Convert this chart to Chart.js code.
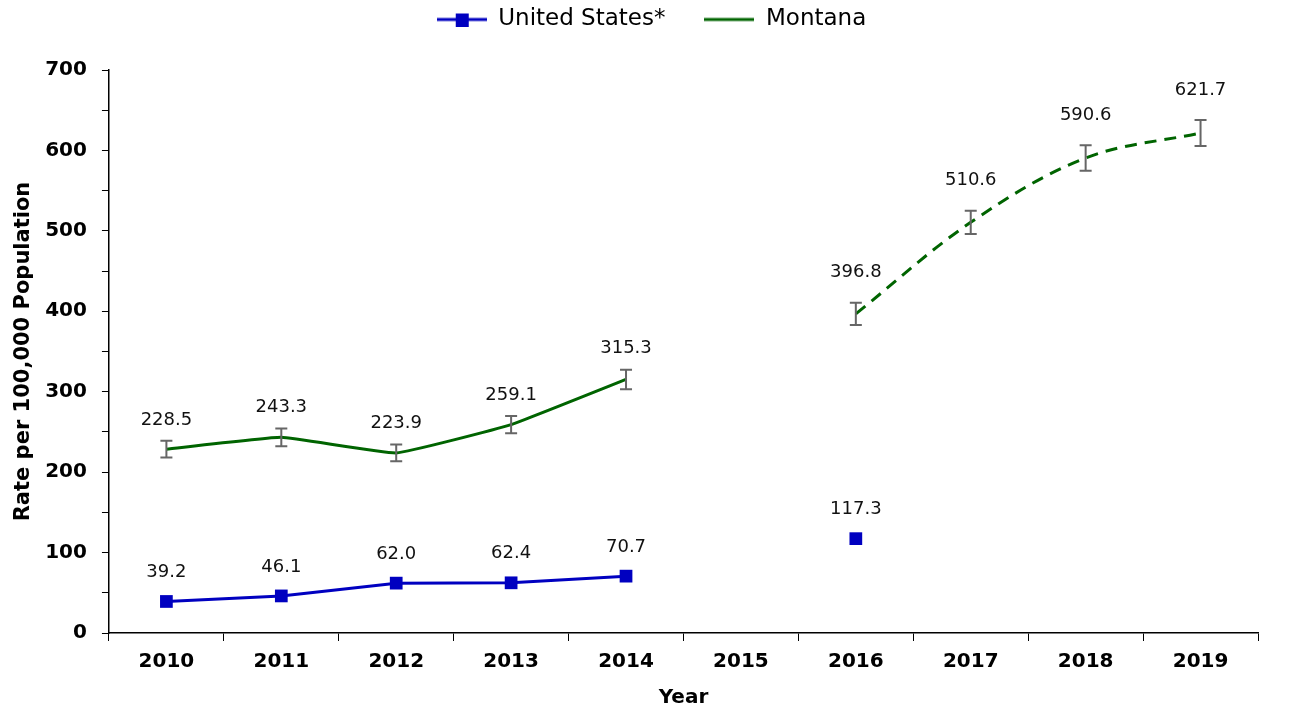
<!DOCTYPE html>
<html>
<head>
<meta charset="utf-8">
<script src="https://cdn.jsdelivr.net/npm/chart.js@4/dist/chart.umd.min.js"></script>
<style>
  html, body { margin: 0; padding: 0; background: #fff; }
  #chart { display: block; }
</style>
</head>
<body>
<canvas id="chart" width="1289" height="712"></canvas>
<script>
var years = ['2010', '2011', '2012', '2013', '2014', '2015', '2016', '2017', '2018', '2019'];
var usRate = [39.2, 46.1, 62.0, 62.4, 70.7, null, 117.3, null, null, null];
var mtRate = [228.5, 243.3, 223.9, 259.1, 315.3, null, 396.8, 510.6, 590.6, 621.7];
var mtLower = [218.1, 232.3, 213.5, 248.3, 303.2, null, 383.0, 496.2, 574.7, 605.5];
var mtUpper = [238.9, 254.3, 234.3, 269.9, 327.4, null, 410.6, 525.0, 606.5, 637.9];
var yTicks = [0, 100, 200, 300, 400, 500, 600, 700];

// Montana: solid through 2014, dashed from 2016
var mtSolid = mtRate.map(function (v, i) { return i <= 4 ? v : null; });
var mtDashed = mtRate.map(function (v, i) { return i >= 6 ? v : null; });

var blue = '#0000c0';
var green = '#006400';
var fontFamily = '"DejaVu Sans", sans-serif';

function legendIcon(color, withSquare) {
    var c = document.createElement('canvas');
    c.width = 50;
    c.height = 14;
    var g = c.getContext('2d');
    g.strokeStyle = color;
    g.lineWidth = 3;
    g.beginPath();
    g.moveTo(0, 7);
    g.lineTo(50, 7);
    g.stroke();
    if (withSquare) {
        g.fillStyle = color;
        g.fillRect(19, 1, 13, 13);
    }
    return c;
}

// grey error bars for Montana
var errorBars = {
    id: 'errorBars',
    afterDatasetsDraw: function (chart) {
        var ctx = chart.ctx;
        var x = chart.scales.x, y = chart.scales.y;
        ctx.save();
        ctx.strokeStyle = '#666666';
        ctx.lineWidth = 2;
        mtLower.forEach(function (lo, i) {
            if (lo == null) return;
            var px = x.getPixelForValue(i);
            var top = y.getPixelForValue(mtUpper[i]);
            var bot = y.getPixelForValue(lo);
            ctx.beginPath();
            ctx.moveTo(px, top); ctx.lineTo(px, bot);
            ctx.moveTo(px - 6, top); ctx.lineTo(px + 6, top);
            ctx.moveTo(px - 6, bot); ctx.lineTo(px + 6, bot);
            ctx.stroke();
        });
        ctx.restore();
    }
};

// value labels above the points
var valueLabels = {
    id: 'valueLabels',
    afterDatasetsDraw: function (chart) {
        var ctx = chart.ctx;
        var x = chart.scales.x, y = chart.scales.y;
        ctx.save();
        ctx.font = '18px ' + fontFamily;
        ctx.fillStyle = '#111';
        ctx.textAlign = 'center';
        ctx.textBaseline = 'middle';
        usRate.forEach(function (v, i) {
            if (v == null) return;
            ctx.fillText(v.toFixed(1), x.getPixelForValue(i), y.getPixelForValue(v) - 29);
        });
        mtRate.forEach(function (v, i) {
            if (v == null) return;
            var top = y.getPixelForValue(mtUpper[i]);
            ctx.fillText(v.toFixed(1), x.getPixelForValue(i), top - (i >= 6 ? 30 : 21));
        });
        ctx.restore();
    }
};

// extra room under the legend, and nudge it right
var legendSpace = {
    id: 'legendSpace',
    beforeInit: function (chart) {
        var legend = chart.legend;
        var fit = legend.fit;
        legend.fit = function () {
            fit.bind(legend)();
            this.height += 29;
        };
        var draw = legend.draw;
        legend.draw = function () {
            this.ctx.save();
            this.ctx.translate(22, 0);
            draw.apply(this, arguments);
            this.ctx.restore();
        };
    }
};

var ctx = document.querySelector('#chart').getContext('2d');
var chart = new Chart(ctx, {
    type: 'line',
    data: {
        labels: years,
        datasets: [{
            label: 'United States*',
            data: usRate,
            borderColor: blue,
            backgroundColor: blue,
            borderWidth: 3,
            pointStyle: 'rect',
            pointRadius: 9,
            pointHoverRadius: 9,
            pointBorderWidth: 0,
            spanGaps: false,
            tension: 0
        }, {
            label: 'Montana',
            data: mtSolid,
            borderColor: green,
            backgroundColor: green,
            borderWidth: 3,
            pointRadius: 0,
            spanGaps: false,
            tension: 0.1
        }, {
            label: 'Montana (dashed)',
            data: mtDashed,
            borderColor: green,
            backgroundColor: green,
            borderWidth: 3,
            borderDash: [12, 8],
            pointRadius: 0,
            spanGaps: false,
            tension: 0.35
        }]
    },
    options: {
        responsive: false,
        animation: false,
        layout: { padding: { left: 1, right: 31, top: -31, bottom: 2 } },
        plugins: {
            tooltip: { enabled: false },
            legend: {
                display: true,
                position: 'top',
                labels: {
                    usePointStyle: true,
                    pointStyleWidth: 50,
                    color: '#000',
                    padding: 39,
                    font: { family: fontFamily, size: 23 },
                    generateLabels: function (chart) {
                        return chart.data.datasets.slice(0, 2).map(function (ds, i) {
                            return {
                                text: ds.label,
                                pointStyle: legendIcon(ds.borderColor, i === 0),
                                fillStyle: ds.borderColor,
                                strokeStyle: ds.borderColor,
                                lineWidth: 0,
                                datasetIndex: i,
                                fontColor: '#000'
                            };
                        });
                    }
                }
            }
        },
        scales: {
            x: {
                offset: true,
                grid: {
                    offset: true,
                    drawOnChartArea: false,
                    drawTicks: true,
                    tickLength: 8,
                    color: '#000'
                },
                border: { display: true, color: '#000', width: 1.5 },
                ticks: {
                    color: '#000',
                    padding: 9,
                    maxRotation: 0,
                    font: { family: fontFamily, size: 20, weight: 'bold' }
                },
                title: {
                    display: true,
                    text: 'Year',
                    color: '#000',
                    padding: { top: 3, bottom: 0 },
                    font: { family: fontFamily, size: 20, weight: 'bold' }
                }
            },
            y: {
                min: 0,
                max: 700,
                grid: {
                    drawOnChartArea: false,
                    drawTicks: true,
                    tickLength: 7,
                    color: '#000'
                },
                border: { display: true, color: '#000', width: 1.5 },
                ticks: {
                    stepSize: 50,
                    autoSkip: false,
                    color: '#000',
                    padding: 15,
                    font: { family: fontFamily, size: 20, weight: 'bold' },
                    callback: function (v) { return yTicks.indexOf(v) >= 0 ? v : ''; }
                },
                title: {
                    display: true,
                    text: 'Rate per 100,000 Population',
                    color: '#000',
                    padding: { top: 10, bottom: -6 },
                    font: { family: fontFamily, size: 21, weight: 'bold' }
                }
            }
        }
    },
    plugins: [errorBars, valueLabels, legendSpace]
});
</script>
</body>
</html>
